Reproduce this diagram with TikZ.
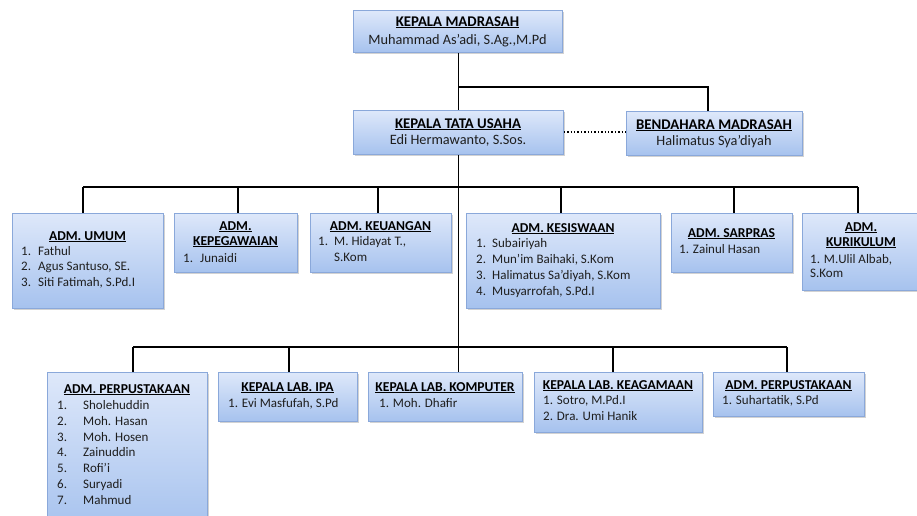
\documentclass[tikz,border=0pt]{standalone}
\usepackage{fontspec}
\setmainfont{Carlito}
\usetikzlibrary{shadows}
\definecolor{boxtop}{HTML}{DEE8FA}
\definecolor{boxbot}{HTML}{A6C2EE}
\definecolor{boxedge}{HTML}{8AA8DA}
\definecolor{txt}{HTML}{1E1E1E}
\newsavebox\ulbox
\newcommand\ulx[1]{\leavevmode\sbox\ulbox{#1}\rlap{\rule[-2.1pt]{\wd\ulbox}{1pt}}\usebox\ulbox}
\tikzset{
  box/.style={rectangle, inner sep=0pt, top color=boxtop, bottom color=boxbot, draw=boxedge, line width=0.8pt,
    drop shadow={shadow xshift=1.6pt, shadow yshift=-1.6pt, opacity=0.35}},
  ttl/.style={inner sep=0pt, anchor=mid, text=black, font=\fontsize{13.6}{16}\selectfont\bfseries},
  bigttl/.style={inner sep=0pt, anchor=mid, text=black, font=\fontsize{14.8}{17}\selectfont\bfseries},
  bigname/.style={inner sep=0pt, anchor=mid, text=txt, font=\fontsize{14.3}{17}\selectfont},
  lst/.style={inner sep=0pt, anchor=mid west, text=txt, font=\fontsize{13}{15}\selectfont},
  conn/.style={line width=1.7pt, black},
}
% name, x1, y1, x2, y2
\newcommand\obox[5]{\node[box, anchor=north west, minimum width={(#4-#2)*1pt}, minimum height={(#5-#3)*1pt}] (#1) at (#2,#3) {};}
% name, numx, textx, y, num, text
\newcommand\litem[6]{\node[lst] (#1) at (#2,#4) {\makebox[\dimexpr#3pt-#2pt\relax][l]{#5}#6};}
\begin{document}
\begin{tikzpicture}[x=1pt,y=-1pt]
\fill[white] (0,0) rectangle (917,515);
\useasboundingbox (0,0) rectangle (917,515);

\coordinate (trunk) at (458.5,0);
\coordinate (bus1) at (0,187);
\coordinate (bus2) at (0,347);
\coordinate (bend) at (708,87);

% ---------- top boxes ----------
\obox{km}{353}{10}{562}{52}
\node[bigttl] (km-t) at (457.5,24) {\ulx{KEPALA MADRASAH}};
\node[bigname] (km-n) at (457.5,42) {Muhammad As’adi, S.Ag.,M.Pd};

\obox{tu}{353}{110}{563}{154}
\node[bigttl] (tu-t) at (458,126) {\ulx{KEPALA TATA USAHA}};
\node[bigname] (tu-n) at (458,142) {Edi Hermawanto, S.Sos.};

\obox{bd}{626}{111}{802}{155}
\node[bigttl] (bd-t) at (714,127) {\ulx{BENDAHARA MADRASAH}};
\node[bigname] (bd-n) at (714,143) {Halimatus Sya’diyah};

% ---------- middle row ----------
\obox{umum}{12}{213}{163}{308}
\node[ttl] (umum-t) at (87.5,238) {\ulx{ADM. UMUM}};
\litem{umum-1}{21}{38}{253}{1.}{Fathul}
\litem{umum-2}{21}{38}{268.5}{2.}{Agus Santuso, SE.}
\litem{umum-3}{21}{38}{284}{3.}{Siti Fatimah, S.Pd.I}

\obox{peg}{174}{213}{297}{272}
\node[ttl] (peg-t1) at (235.5,228) {\ulx{ADM.}};
\node[ttl] (peg-t2) at (235.5,243) {\ulx{KEPEGAWAIAN}};
\litem{peg-1}{183}{200}{260}{1.}{Junaidi}

\obox{keu}{310}{213}{451}{272}
\node[ttl] (keu-t) at (380.5,228) {\ulx{ADM. KEUANGAN}};
\litem{keu-1}{318}{334}{243}{1.}{M. Hidayat T.,}
\node[lst] (keu-1b) at (334,259) {S.Kom};

\obox{sis}{466}{213}{660}{308}
\node[ttl] (sis-t) at (563,230) {\ulx{ADM. KESISWAAN}};
\litem{sis-1}{476}{492}{245}{1.}{Subairiyah}
\litem{sis-2}{476}{492}{261.5}{2.}{Mun’im Baihaki, S.Kom}
\litem{sis-3}{476}{492}{277.5}{3.}{Halimatus Sa’diyah, S.Kom}
\litem{sis-4}{476}{492}{293.5}{4.}{Musyarrofah, S.Pd.I}

\obox{sar}{671}{213}{792}{272}
\node[ttl] (sar-t) at (731.5,235) {\ulx{ADM. SARPRAS}};
\node[lst] (sar-1) at (679,251) {1. Zainul Hasan};

\obox{kur}{802}{213}{921}{290}
\node[ttl] (kur-t1) at (861,229) {\ulx{ADM.}};
\node[ttl] (kur-t2) at (861,244) {\ulx{KURIKULUM}};
\node[lst] (kur-1) at (810,261) {1. M.Ulil Albab,};
\node[lst] (kur-1b) at (810,275) {S.Kom};

% ---------- bottom row ----------
\obox{pus}{47}{372}{207}{530}
\node[ttl] (pus-t) at (127,391) {\ulx{ADM. PERPUSTAKAAN}};
\litem{pus-1}{57}{83}{407}{1.}{Sholehuddin}
\litem{pus-2}{57}{83}{423}{2.}{Moh. Hasan}
\litem{pus-3}{57}{83}{438.8}{3.}{Moh. Hosen}
\litem{pus-4}{57}{83}{454.6}{4.}{Zainuddin}
\litem{pus-5}{57}{83}{470.4}{5.}{Rofi’i}
\litem{pus-6}{57}{83}{486.2}{6.}{Suryadi}
\litem{pus-7}{57}{83}{502}{7.}{Mahmud}

\obox{ipa}{218}{372}{357}{421}
\node[ttl] (ipa-t) at (287.5,389) {\ulx{KEPALA LAB. IPA}};
\node[lst] (ipa-1) at (228,405) {1. Evi Masfufah, S.Pd};

\obox{kom}{368}{372}{522}{421}
\node[ttl] (kom-t) at (445,389) {\ulx{KEPALA LAB. KOMPUTER}};
\node[lst] (kom-1) at (379,405) {1. Moh. Dhafir};

\obox{aga}{534}{372}{702}{432}
\node[ttl] (aga-t) at (618,387) {\ulx{KEPALA LAB. KEAGAMAAN}};
\node[lst] (aga-1) at (543,402) {1. Sotro, M.Pd.I};
\node[lst] (aga-2) at (543,418) {2. Dra. Umi Hanik};

\obox{pus2}{713}{372}{864}{416}
\node[ttl] (pus2-t) at (788.5,387) {\ulx{ADM. PERPUSTAKAAN}};
\node[lst] (pus2-1) at (722,402) {1. Suhartatik, S.Pd};

% ---------- connectors ----------
\draw[conn] (km.south -| trunk) -- (tu.north -| trunk);
\draw[conn] (bend -| trunk) -- (bend) -- (bd.north -| bend);
\draw[line width=1.4pt, dotted] (tu.east |- 0,132) -- (bd.west |- 0,132);
\draw[conn] (tu.south -| trunk) -- (kom.north -| trunk);
\draw[conn] (bus1 -| 83,0) -- (bus1 -| 858,0);
\foreach \n/\x in {umum/83, peg/238, keu/378, sis/561, sar/734, kur/858}
  \draw[conn] (bus1 -| \x,0) -- (\n.north -| \x,0);
\draw[conn] (bus2 -| 133,0) -- (bus2 -| 787,0);
\foreach \n/\x in {pus/133, ipa/289, aga/613, pus2/787}
  \draw[conn] (bus2 -| \x,0) -- (\n.north -| \x,0);
\end{tikzpicture}
\end{document}
